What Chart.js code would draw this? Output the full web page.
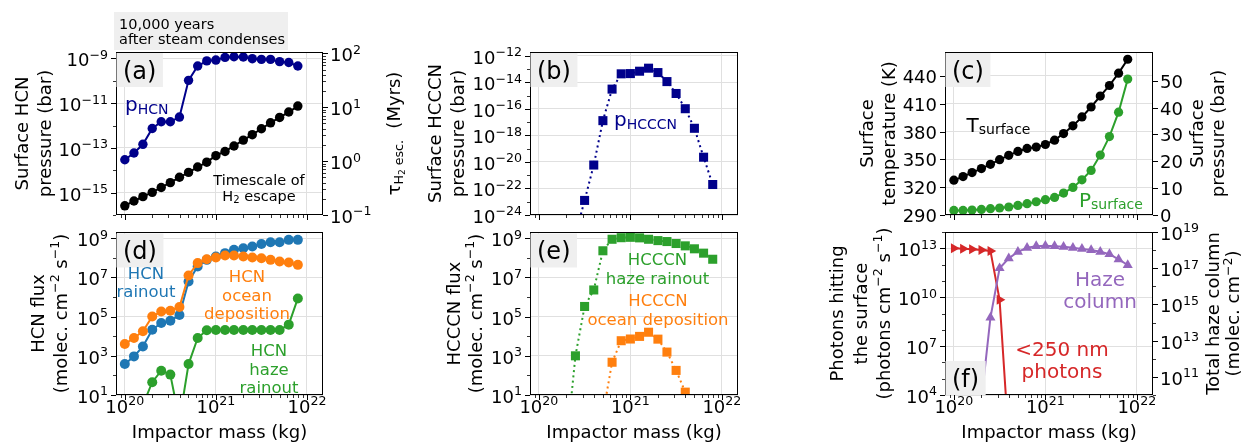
<!DOCTYPE html>
<html>
<head>
<meta charset="utf-8">
<script src="https://cdn.jsdelivr.net/npm/chart.js@4.4.1/dist/chart.umd.min.js"></script>
<style>
  html, body { margin: 0; padding: 0; background: #ffffff; }
  #figure { position: relative; width: 1244px; height: 443px; overflow: hidden; }
  #figure canvas { position: absolute; left: 0; top: 0; }
</style>
</head>
<body>
<div id="figure">
  <canvas id="panelA" width="1244" height="443"></canvas>
  <canvas id="panelB" width="1244" height="443"></canvas>
  <canvas id="panelC" width="1244" height="443"></canvas>
  <canvas id="panelD" width="1244" height="443"></canvas>
  <canvas id="panelE" width="1244" height="443"></canvas>
  <canvas id="panelF" width="1244" height="443"></canvas>
</div>
<script>
// ---------------------------------------------------------------------------
// Data: outcomes 10,000 years after steam condenses, versus impactor mass
// ---------------------------------------------------------------------------
const impactorMass = [1.00e20, 1.26e20, 1.58e20, 2.00e20, 2.51e20, 3.16e20, 3.98e20, 5.01e20, 6.31e20, 7.94e20,
                      1.00e21, 1.26e21, 1.58e21, 2.00e21, 2.51e21, 3.16e21, 3.98e21, 5.01e21, 6.31e21, 7.94e21];

// (a) surface HCN pressure (bar) and H2 escape timescale (Myr)
const pHCN = [2.95e-14, 5.9e-14, 1.45e-13, 7.4e-13, 1.48e-12, 1.48e-12, 2.4e-12, 1.05e-10, 4.6e-10, 7.8e-10,
              8.5e-10, 1.12e-9, 1.2e-9, 1.17e-9, 9.8e-10, 9.1e-10, 9.1e-10, 7.2e-10, 6.6e-10, 4.6e-10];
const tauH2Escape = [0.148, 0.182, 0.219, 0.263, 0.324, 0.398, 0.501, 0.617, 0.776, 0.955,
                     1.26, 1.51, 1.91, 2.45, 3.09, 3.98, 5.13, 6.46, 8.13, 10.5];

// (b) surface HCCCN pressure (bar)
const pHCCCN = [null, null, null, null, 3.2e-26, 1.26e-23, 5.9e-21, 1.32e-17, 3.16e-15, 4.5e-14,
                4.7e-14, 7.1e-14, 1.2e-13, 5.6e-14, 1.17e-14, 1.48e-15, 1.05e-16, 3.5e-18, 2.3e-20, 2.0e-22];

// (c) surface temperature (K) and surface pressure (bar)
const surfaceTemp = [327.5, 331.4, 335.7, 340.0, 344.6, 349.6, 354.3, 358.5, 361.8, 363.2,
                     366.0, 370.7, 377.8, 386.1, 395.7, 406.4, 418.2, 429.6, 442.9, 457.9];
const surfacePressure = [1.7, 1.7, 1.86, 2.08, 2.34, 2.6, 2.97, 3.57, 4.2, 4.94,
                         5.69, 6.54, 8.18, 10.26, 13.1, 16.6, 22.3, 29.2, 38.3, 50.6];

// (d) HCN fluxes (molec. cm^-2 s^-1)
const hcnRainout = [380, 933, 3.0e3, 2.14e4, 4.7e4, 6.2e4, 1.2e5, 6.2e6, 3.6e7, 7.9e7,
                    1.17e8, 1.74e8, 2.57e8, 3.1e8, 3.8e8, 5.1e8, 6.3e8, 6.3e8, 8.3e8, 8.3e8];
const hcnOcean = [4.0e3, 8.1e3, 1.78e4, 1.02e5, 1.82e5, 2.0e5, 3.1e5, 1.26e7, 5.4e7, 8.5e7,
                  1.05e8, 1.32e8, 1.32e8, 1.17e8, 1.05e8, 9.5e7, 7.9e7, 6.5e7, 5.8e7, 4.4e7];
const hcnHaze = [null, null, 3.1, 45, 174, 110, 0.51, 380, 8.1e3, 2.0e4,
                 2.1e4, 2.1e4, 2.1e4, 2.1e4, 2.1e4, 2.1e4, 2.1e4, 2.1e4, 3.9e4, 8.5e5];

// (e) HCCCN fluxes (molec. cm^-2 s^-1)
const hcccnHaze = [null, null, null, 0.025, 1000, 3.3e5, 2.3e6, 2.3e8, 8.9e8, 1.07e9,
                   1.12e9, 1.05e9, 8.9e8, 7.6e8, 6.8e8, 5.4e8, 4.1e8, 2.9e8, 1.74e8, 8.5e7];
const hcccnOcean = [null, null, null, null, null, null, null, 1.0, 470, 5.9e3,
                    7.2e3, 9.8e3, 1.6e4, 7.1e3, 1.55e3, 180, 14, null, null, null];

// (f) <250 nm photons at the surface and total haze column
const uvPhotons = [1.0e13, 9.5e12, 8.7e12, 7.9e12, 6.9e12, 6.9e9, 16, null, null, null,
                   null, null, null, null, null, null, null, null, null, null];
const hazeColumn = [null, null, null, 5.1e9, 1.86e14, 1.0e17, 3.5e17, 8.1e17, 1.35e18, 1.66e18,
                    1.74e18, 1.66e18, 1.51e18, 1.35e18, 1.17e18, 1.0e18, 8.1e17, 6.0e17, 3.1e17, 1.51e17];

// Tick values
const massTicks = [1e20, 1e21, 1e22];
const tempTicks = [290, 320, 350, 380, 410, 440];
const pressureTicks = [0, 10, 20, 30, 40, 50];

// ---------------------------------------------------------------------------
// Styling helpers
// ---------------------------------------------------------------------------
const FONT = '"DejaVu Sans", Verdana, sans-serif';
const GRID = '#e0e0e0';
const C_NAVY = '#00008b', C_BLUE = '#1f77b4', C_ORANGE = '#ff7f0e', C_GREEN = '#2ca02c',
      C_RED = '#d62728', C_PURPLE = '#9467bd', C_BLACK = '#000000';
const TICK_F = 18, LABEL_F = 18;

function decades(a, b, step) { const out = []; for (let e = a; e <= b; e += step) out.push(Math.pow(10, e)); return out; }
function logMinors(a, b) { const out = []; for (let e = a; e <= b; e++) for (let k = 2; k <= 9; k++) out.push(k * Math.pow(10, e)); return out; }
const massMinor = [9e19].concat(logMinors(20, 21));

function fontStr(px) { return px.toFixed(2) + 'px ' + FONT; }

// tiny mathtext: "p_{HCN}", "10^{-9}"
function rich(str) {
  const out = [];
  const re = /([_^])\{([^}]*)\}|([^_^]+)/g;
  let m;
  while ((m = re.exec(str))) {
    if (m[3] !== undefined) out.push({ t: m[3] });
    else if (m[1] === '^') out.push({ t: m[2], k: 0.7, dy: -0.42 });
    else out.push({ t: m[2], k: 0.7, dy: 0.14 });
  }
  return out;
}
function pow10Label(v) {
  const n = Math.round(Math.log10(v));
  return rich('10^{' + (n < 0 ? '\u2212' + (-n) : String(n)) + '}');
}
function segsOf(x) { return typeof x === 'string' ? rich(x) : x; }
function measureSegs(ctx, segs, f) {
  let w = 0;
  for (const s of segs) { ctx.font = fontStr((s.k || 1) * f); w += ctx.measureText(s.t).width; }
  return w;
}
function drawSegs(ctx, segs, x, y, f, align) {
  const w = measureSegs(ctx, segs, f);
  let cx = align === 'center' ? x - w / 2 : (align === 'right' ? x - w : x);
  ctx.textAlign = 'left';
  ctx.textBaseline = 'alphabetic';
  for (const s of segs) {
    ctx.font = fontStr((s.k || 1) * f);
    ctx.fillText(s.t, cx, y + (s.dy || 0) * f);
    cx += ctx.measureText(s.t).width;
  }
}
// multi-line text block; rotated blocks are centred on (x, y)
function drawBlock(ctx, o) {
  ctx.save();
  ctx.fillStyle = o.color || C_BLACK;
  const n = o.lines.length;
  if (o.rot) {
    ctx.translate(o.x, o.y);
    ctx.rotate(-Math.PI / 2);
    o.lines.forEach((ln, i) => drawSegs(ctx, segsOf(ln), 0, (i - (n - 1) / 2) * o.lineH + 0.365 * o.f, o.f, 'center'));
  } else {
    o.lines.forEach((ln, i) => drawSegs(ctx, segsOf(ln), o.x, o.y + i * o.lineH, o.f, o.align || 'center'));
  }
  ctx.restore();
}
function drawTag(ctx, text, left, top, bottom) {
  ctx.save();
  ctx.font = fontStr(24);
  const w = ctx.measureText(text).width + 13;
  const h = 34;
  const y0 = top !== null ? top : bottom - h;
  ctx.fillStyle = '#efefef';
  ctx.fillRect(left, y0, w, h);
  ctx.fillStyle = C_BLACK;
  ctx.textAlign = 'center';
  ctx.textBaseline = 'alphabetic';
  ctx.fillText(text, left + w / 2, y0 + h / 2 + 8.7);
  ctx.restore();
}

function drawAxes(chart, axes) {
  const ctx = chart.ctx, a = chart.chartArea;
  ctx.save();
  ctx.strokeStyle = C_BLACK;
  ctx.fillStyle = C_BLACK;
  for (const ax of axes) {
    const sc = chart.scales[ax.id];
    const lo = Math.min(sc.min, sc.max), hi = Math.max(sc.min, sc.max);
    const inRange = v => v >= lo - Math.abs(lo) * 1e-9 && v <= hi + Math.abs(hi) * 1e-9;
    const mark = (v, len, lw) => {
      const p = Math.round(sc.getPixelForValue(v)) + 0.5;
      ctx.lineWidth = lw;
      ctx.beginPath();
      if (ax.side === 'bottom') { ctx.moveTo(p, a.bottom); ctx.lineTo(p, a.bottom + len); }
      else if (ax.side === 'left') { ctx.moveTo(a.left, p); ctx.lineTo(a.left - len, p); }
      else { ctx.moveTo(a.right, p); ctx.lineTo(a.right + len, p); }
      ctx.stroke();
    };
    (ax.minor || []).filter(inRange).forEach(v => mark(v, 3, 0.8));
    ax.major.filter(inRange).forEach(v => mark(v, 5, 1));
    if (ax.fmt) {
      for (const v of ax.major.filter(inRange)) {
        const segs = ax.fmt(v), p = sc.getPixelForValue(v);
        if (ax.side === 'bottom') drawSegs(ctx, segs, p, a.bottom + 18, TICK_F, 'center');
        else if (ax.side === 'left') drawSegs(ctx, segs, a.left - 8, p + ax.dy, TICK_F, 'right');
        else drawSegs(ctx, segs, a.right + 7, p + ax.dy, TICK_F, 'left');
      }
    }
  }
  // frame
  ctx.lineWidth = 1;
  ctx.strokeRect(a.left + 0.5, a.top + 0.5, a.right - a.left - 1, a.bottom - a.top - 1);
  ctx.restore();
}

function line(values, color, extra) {
  return Object.assign({
    data: impactorMass.map((m, i) => ({ x: m, y: values[i] })),
    borderColor: color, backgroundColor: color,
    pointBackgroundColor: color, pointBorderColor: color,
    borderWidth: 2, pointRadius: 4.7, pointBorderWidth: 0, pointStyle: 'circle',
    tension: 0, spanGaps: false, clip: 0, yAxisID: 'y'
  }, extra || {});
}

function hiddenScale(type, min, max, position, gridTicks, withGrid) {
  return {
    type, min, max, position, bounds: 'data',
    afterBuildTicks: s => { s.ticks = gridTicks.map(v => ({ value: v })); },
    afterFit: s => { if (position === 'bottom') s.height = 0; else s.width = 0; },
    ticks: { display: false },
    border: { display: false },
    grid: { display: withGrid, drawTicks: false, color: GRID, lineWidth: 1 }
  };
}

function makePanel(id, area, scales, datasets, axes, draw) {
  const decor = {
    id: 'decor_' + id,
    afterDraw(chart) { drawAxes(chart, axes); draw(chart.ctx, chart); }
  };
  return new Chart(document.getElementById(id), {
    type: 'line',
    data: { datasets },
    options: {
      responsive: false, animation: false, devicePixelRatio: 1, events: [],
      layout: { autoPadding: false, padding: { left: area[0], top: area[1], right: 1244 - area[2], bottom: 443 - area[3] } },
      plugins: { legend: { display: false }, tooltip: { enabled: false } },
      scales
    },
    plugins: [decor]
  });
}

const logFmt = v => pow10Label(v);
const linFmt = v => rich(String(v));
const TOP = [52, 215], BOT = [232, 395];
const COLS = [[116, 323], [530, 738], [945, 1153]];
const xMin = 8e19, xMax = 1.5e22;

function xAxis(labels) { return { id: 'x', side: 'bottom', major: massTicks, minor: massMinor, fmt: labels ? logFmt : null }; }
function massTitle(ctx, area) {
  drawBlock(ctx, { lines: ['Impactor mass (kg)'], x: (area[0] + area[2]) / 2, y: 438, lineH: 0, f: LABEL_F });
}

// ---------------------------------------------------------------- panel (a)
{
  const area = [COLS[0][0], TOP[0], COLS[0][1], TOP[1]];
  makePanel('panelA', area, {
    x: hiddenScale('logarithmic', xMin, xMax, 'bottom', massTicks, true),
    y: hiddenScale('logarithmic', 1e-16, 1.95e-9, 'left', decades(-15, -9, 2), true),
    y2: hiddenScale('logarithmic', 0.1, 105.7, 'right', [], false)
  }, [
    line(pHCN, C_NAVY, { order: 1 }),
    line(tauH2Escape, C_BLACK, { yAxisID: 'y2', order: 0 })
  ], [
    xAxis(false),
    { id: 'y', side: 'left', major: decades(-15, -9, 2), minor: decades(-16, -10, 2), fmt: logFmt, dy: 8 },
    { id: 'y2', side: 'right', major: decades(-1, 2, 1), minor: logMinors(-1, 1), fmt: logFmt, dy: 8 }
  ], ctx => {
    // caption box above the panel
    ctx.save();
    ctx.fillStyle = '#efefef';
    ctx.fillRect(114, 12, 174, 38);
    ctx.restore();
    drawBlock(ctx, { lines: ['10,000 years', 'after steam condenses'], x: 119, y: 29.3, lineH: 15, f: 14.5, align: 'left' });
    drawTag(ctx, '(a)', 116.5, 53, null);
    drawBlock(ctx, { lines: ['p_{HCN}'], x: 125, y: 111, lineH: 0, f: 20, color: C_NAVY, align: 'left' });
    drawBlock(ctx, { lines: ['Timescale of', 'H_{2} escape'], x: 259, y: 184.5, lineH: 16.5, f: 14.5 });
    drawBlock(ctx, { lines: ['Surface HCN', 'pressure (bar)'], x: 33, y: 133.5, lineH: 23, f: LABEL_F, rot: true });
    drawBlock(ctx, {
      lines: [[{ t: '\u03c4' }, { t: 'H', k: 0.7, dy: 0.2 }, { t: '2', k: 0.5, dy: 0.32 }, { t: ' esc.', k: 0.7, dy: 0.2 }, { t: '  (Myrs)' }]],
      x: 393, y: 133.5, lineH: 0, f: LABEL_F, rot: true
    });
  });
}

// ---------------------------------------------------------------- panel (b)
{
  const area = [COLS[1][0], TOP[0], COLS[1][1], TOP[1]];
  makePanel('panelB', area, {
    x: hiddenScale('logarithmic', xMin, xMax, 'bottom', massTicks, true),
    y: hiddenScale('logarithmic', 1e-24, 2e-12, 'left', decades(-24, -12, 2), true)
  }, [
    line(pHCCCN, C_NAVY, { pointStyle: 'rect', pointRadius: 6.4, borderDash: [2, 3.3] })
  ], [
    xAxis(false),
    { id: 'y', side: 'left', major: decades(-24, -12, 2), minor: decades(-23, -13, 2), fmt: logFmt, dy: 8 }
  ], ctx => {
    drawTag(ctx, '(b)', 530.5, 53, null);
    drawBlock(ctx, { lines: ['p_{HCCCN}'], x: 614, y: 126, lineH: 0, f: 20, color: C_NAVY, align: 'left' });
    drawBlock(ctx, { lines: ['Surface HCCCN', 'pressure (bar)'], x: 446, y: 133.5, lineH: 23, f: LABEL_F, rot: true });
  });
}

// ---------------------------------------------------------------- panel (c)
{
  const area = [COLS[2][0], TOP[0], COLS[2][1], TOP[1]];
  makePanel('panelC', area, {
    x: hiddenScale('logarithmic', xMin, xMax, 'bottom', massTicks, true),
    y: hiddenScale('linear', 290, 465.7, 'left', tempTicks, true),
    y2: hiddenScale('linear', 0, 60.7, 'right', [], false)
  }, [
    line(surfaceTemp, C_BLACK, { pointRadius: 4.6, order: 1 }),
    line(surfacePressure, C_GREEN, { yAxisID: 'y2', pointRadius: 4.6, order: 0 })
  ], [
    xAxis(false),
    { id: 'y', side: 'left', major: tempTicks, fmt: linFmt, dy: 7 },
    { id: 'y2', side: 'right', major: pressureTicks, fmt: linFmt, dy: 7 }
  ], ctx => {
    drawTag(ctx, '(c)', 945.5, 53, null);
    drawBlock(ctx, { lines: ['T_{surface}'], x: 966.5, y: 131.5, lineH: 0, f: 20, align: 'left' });
    drawBlock(ctx, { lines: ['P_{surface}'], x: 1079, y: 206.5, lineH: 0, f: 20, color: C_GREEN, align: 'left' });
    drawBlock(ctx, { lines: ['Surface', 'temperature (K)'], x: 877.5, y: 133.5, lineH: 22, f: LABEL_F, rot: true });
    drawBlock(ctx, { lines: ['Surface', 'pressure (bar)'], x: 1206.5, y: 133.5, lineH: 21, f: LABEL_F, rot: true });
  });
}

// ---------------------------------------------------------------- panel (d)
{
  const area = [COLS[0][0], BOT[0], COLS[0][1], BOT[1]];
  makePanel('panelD', area, {
    x: hiddenScale('logarithmic', xMin, xMax, 'bottom', massTicks, true),
    y: hiddenScale('logarithmic', 10, 2.09e9, 'left', decades(1, 9, 2), true)
  }, [
    line(hcnRainout, C_BLUE, { pointRadius: 5, order: 2 }),
    line(hcnOcean, C_ORANGE, { pointRadius: 5, order: 1 }),
    line(hcnHaze, C_GREEN, { pointRadius: 5, order: 0 })
  ], [
    xAxis(true),
    { id: 'y', side: 'left', major: decades(1, 9, 2), minor: decades(2, 8, 2), fmt: logFmt, dy: 8 }
  ], ctx => {
    drawTag(ctx, '(d)', 116.5, 233.5, null);
    drawBlock(ctx, { lines: ['HCN', 'rainout'], x: 146, y: 278.5, lineH: 18.5, f: 16.5, color: C_BLUE });
    drawBlock(ctx, { lines: ['HCN', 'ocean', 'deposition'], x: 247, y: 282, lineH: 18.5, f: 16.5, color: C_ORANGE });
    drawBlock(ctx, { lines: ['HCN', 'haze', 'rainout'], x: 269, y: 356, lineH: 18.5, f: 16.5, color: C_GREEN });
    drawBlock(ctx, { lines: ['HCN flux', '(molec. cm^{\u22122} s^{\u22121})'], x: 48.7, y: 313.5, lineH: 23, f: LABEL_F, rot: true });
    massTitle(ctx, area);
  });
}

// ---------------------------------------------------------------- panel (e)
{
  const area = [COLS[1][0], BOT[0], COLS[1][1], BOT[1]];
  makePanel('panelE', area, {
    x: hiddenScale('logarithmic', xMin, xMax, 'bottom', massTicks, true),
    y: hiddenScale('logarithmic', 10, 2.09e9, 'left', decades(1, 9, 2), true)
  }, [
    line(hcccnHaze, C_GREEN, { pointStyle: 'rect', pointRadius: 6.4, borderDash: [2, 3.3] }),
    line(hcccnOcean, C_ORANGE, { pointStyle: 'rect', pointRadius: 6.4, borderDash: [2, 3.3] })
  ], [
    xAxis(true),
    { id: 'y', side: 'left', major: decades(1, 9, 2), minor: decades(2, 8, 2), fmt: logFmt, dy: 8 }
  ], ctx => {
    drawTag(ctx, '(e)', 530.5, 233.5, null);
    drawBlock(ctx, { lines: ['HCCCN', 'haze rainout'], x: 657.5, y: 265.3, lineH: 18.5, f: 16.5, color: C_GREEN });
    drawBlock(ctx, { lines: ['HCCCN', 'ocean deposition'], x: 658, y: 306, lineH: 18.5, f: 16.5, color: C_ORANGE });
    drawBlock(ctx, { lines: ['HCCCN flux', '(molec. cm^{\u22122} s^{\u22121})'], x: 464, y: 313.5, lineH: 22, f: LABEL_F, rot: true });
    massTitle(ctx, area);
  });
}

// ---------------------------------------------------------------- panel (f)
{
  const area = [COLS[2][0], BOT[0], COLS[2][1], BOT[1]];
  makePanel('panelF', area, {
    x: hiddenScale('logarithmic', xMin, xMax, 'bottom', massTicks, true),
    y: hiddenScale('logarithmic', 1e4, 1e14, 'left', decades(4, 13, 3), true),
    y2: hiddenScale('logarithmic', 1e10, 1e19, 'right', [], false)
  }, [
    line(uvPhotons, C_RED, { pointStyle: 'triangle', pointRotation: 90, pointRadius: 5.8, order: 1 }),
    line(hazeColumn, C_PURPLE, { yAxisID: 'y2', pointStyle: 'triangle', pointRadius: 5.8, order: 0 })
  ], [
    xAxis(true),
    { id: 'y', side: 'left', major: decades(4, 13, 3), minor: [1e5, 1e6, 1e8, 1e9, 1e11, 1e12, 1e14], fmt: logFmt, dy: 8 },
    { id: 'y2', side: 'right', major: decades(11, 19, 2), minor: decades(10, 18, 2), fmt: logFmt, dy: 8 }
  ], ctx => {
    drawTag(ctx, '(f)', 945.5, null, 395);
    drawBlock(ctx, { lines: ['Haze', 'column'], x: 1100, y: 285.6, lineH: 22, f: 20, color: C_PURPLE });
    drawBlock(ctx, { lines: ['<250 nm', 'photons'], x: 1062, y: 355.6, lineH: 22.5, f: 20, color: C_RED });
    drawBlock(ctx, { lines: ['Photons hitting', 'the surface', '(photons cm^{\u22122} s^{\u22121})'], x: 860, y: 313.5, lineH: 23.3, f: LABEL_F, rot: true });
    drawBlock(ctx, { lines: ['Total haze column', '(molec. cm^{\u22122})'], x: 1222.5, y: 313.5, lineH: 20, f: LABEL_F, rot: true });
    massTitle(ctx, area);
  });
}
</script>
</body>
</html>
